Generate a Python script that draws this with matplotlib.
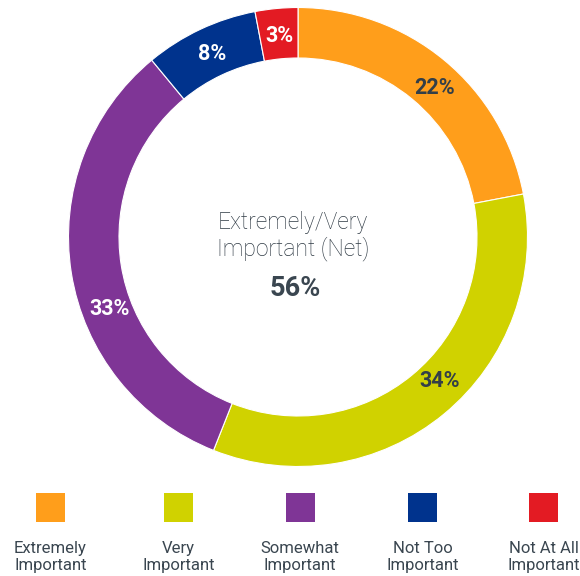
import matplotlib
matplotlib.use('Agg')
import matplotlib.pyplot as plt
from matplotlib.patches import Rectangle
import numpy as np

categories = ['Extremely\nImportant', 'Very\nImportant', 'Somewhat\nImportant',
              'Not Too\nImportant', 'Not At All\nImportant']
shares = [22, 34, 33, 8, 3]
net_label = 'Extremely/Very\nImportant (Net)'
net_value = shares[0] + shares[1]

colors = ['#FF9E1B', '#D0D200', '#7F3596', '#00338D', '#E31B23']
label_colors = ['#333F48', '#333F48', 'white', 'white', 'white']
label_nudge = [-3, 5, 12, 0, 0]   # degrees, shifts each value label along the ring
text_gray = '#3A4650'

plt.rcParams['font.family'] = ['Roboto', 'DejaVu Sans']

W, H = 580, 576
fig = plt.figure(figsize=(W / 100, H / 100), dpi=100)
ax = fig.add_axes([0, 0, 1, 1])

cx, cy = 298, H - 237
r_out, ring = 229.5, 50.5

wedges, _ = ax.pie(shares, colors=colors, startangle=90, counterclock=False,
                   center=(cx, cy), radius=r_out,
                   wedgeprops=dict(width=ring, edgecolor='white', linewidth=0.8))

# value labels inside the ring
r_lab = r_out - ring / 2 - 2
start = 90.0
for v, col, nudge in zip(shares, label_colors, label_nudge):
    mid = start - v * 3.6 / 2 + nudge
    start -= v * 3.6
    a = np.deg2rad(mid)
    ax.text(cx + r_lab * np.cos(a), cy + r_lab * np.sin(a), f'{v}%',
            ha='center', va='center', fontsize=15.5, fontweight='bold', color=col)

# centre annotation
ax.text(cx - 5, H - 236, net_label, ha='center', va='center', fontsize=16.5,
        fontweight='light', color='#2F3A44', linespacing=1.15)
ax.text(cx - 3, H - 289, f'{net_value}%', ha='center', va='center', fontsize=19.5,
        fontweight='bold', color=text_gray)

# legend row
leg_x = [50.5, 178.5, 300, 422.5, 543.5]
sq = 29
for x, col, lab in zip(leg_x, colors, categories):
    ax.add_patch(Rectangle((x - sq / 2, H - 522), sq, sq, facecolor=col, edgecolor='none'))
    ax.text(x, H - 557, lab, ha='center', va='center', fontsize=12,
            fontweight='normal', color=text_gray, linespacing=1.15)

ax.set_xlim(0, W)
ax.set_ylim(0, H)
ax.set_aspect('equal')
ax.axis('off')

fig.savefig('out.png', dpi=100, facecolor='white')
